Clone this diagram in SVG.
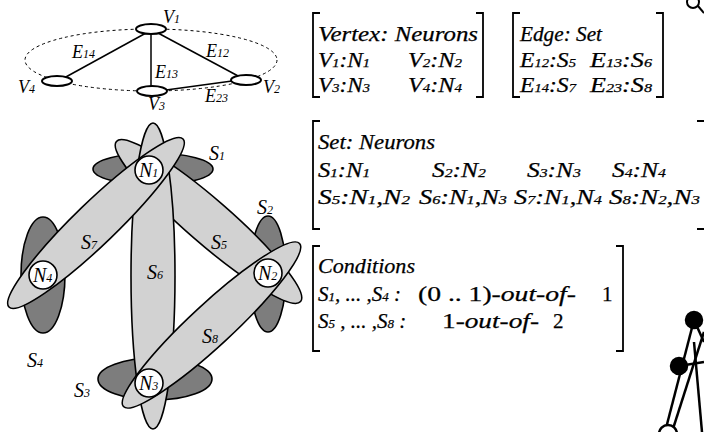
<svg xmlns="http://www.w3.org/2000/svg" width="704" height="432" viewBox="0 0 704 432">
<style>
.t{font-family:"Liberation Serif","Times New Roman",serif;font-style:italic;font-size:21px;fill:#000;stroke:#000;stroke-width:0.25}
.g{font-family:"Liberation Serif","Times New Roman",serif;font-style:italic;font-size:18px;fill:#000}
.gl{font-size:20px}
.s{font-size:12px}
.t .s{font-size:13px}
.u{font-style:normal}
.v{fill:#fff;stroke:#000;stroke-width:2}
.edge{stroke:#000;stroke-width:1.5;fill:none}
.dash{fill:none;stroke:#000;stroke-width:1;stroke-dasharray:3 3}
.lt{fill:#d2d2d2;stroke:#000;stroke-width:1.6}
.dk{fill:#7d7d7d;stroke:#000;stroke-width:1.6}
.nd{fill:#fff;stroke:#000;stroke-width:1.6}
.br{fill:none;stroke:#000;stroke-width:1.8}
</style>

<!-- top graph -->
<ellipse class="dash" cx="151" cy="60" rx="126" ry="31"/>
<g id="connectors">
  <line class="edge" x1="146" y1="33" x2="64" y2="78"/>
  <line class="edge" x1="151" y1="34" x2="151" y2="87"/>
  <line class="edge" x1="158" y1="33" x2="240" y2="77"/>
  <line class="edge" x1="166" y1="90" x2="232" y2="81"/>
</g>
<g id="V1"><ellipse class="v" cx="151" cy="29" rx="15" ry="5"/><text class="g" x="163" y="23">V<tspan class="s">1</tspan></text></g>
<g id="V2"><ellipse class="v" cx="246" cy="80" rx="15" ry="5"/><text class="g" x="263" y="93">V<tspan class="s">2</tspan></text></g>
<g id="V3"><ellipse class="v" cx="152" cy="91" rx="15" ry="5"/><text class="g" x="148" y="110">V<tspan class="s">3</tspan></text></g>
<g id="V4"><ellipse class="v" cx="57" cy="81" rx="15" ry="5"/><text class="g" x="18" y="93">V<tspan class="s">4</tspan></text></g>
<g id="edge-labels">
  <text class="g" x="72" y="58">E<tspan class="s">14</tspan></text>
  <text class="g" x="155" y="78">E<tspan class="s">13</tspan></text>
  <text class="g" x="206" y="57">E<tspan class="s">12</tspan></text>
  <text class="g" x="205" y="102">E<tspan class="s">23</tspan></text>
</g>

<!-- set diagram -->
<g id="S1"><ellipse class="dk" cx="153" cy="169" rx="60" ry="16"/></g>
<g id="S2"><ellipse class="dk" cx="268" cy="274" rx="18" ry="58"/></g>
<g id="S3"><ellipse class="dk" cx="155" cy="379" rx="57" ry="21"/></g>
<g id="S4"><ellipse class="dk" cx="43" cy="275" rx="22" ry="58"/></g>
<g id="S5"><ellipse class="lt" cx="208.5" cy="221.5" rx="122" ry="22" transform="rotate(41 208.5 221.5)"/></g>
<g id="S6"><ellipse class="lt" cx="153" cy="276" rx="22" ry="153"/></g>
<g id="S7"><ellipse class="lt" cx="96" cy="223" rx="121" ry="21" transform="rotate(-44 96 223)"/></g>
<g id="S8"><ellipse class="lt" cx="211.5" cy="325" rx="120" ry="21" transform="rotate(-42.8 211.5 325)"/></g>
<g id="N1"><circle class="nd" cx="149" cy="170" r="14"/><text class="g gl" x="139" y="177">N<tspan class="s">1</tspan></text></g>
<g id="N2"><circle class="nd" cx="268" cy="273" r="14"/><text class="g gl" x="258" y="280">N<tspan class="s">2</tspan></text></g>
<g id="N3"><circle class="nd" cx="149" cy="383" r="14"/><text class="g gl" x="139" y="390">N<tspan class="s">3</tspan></text></g>
<g id="N4"><circle class="nd" cx="43" cy="275" r="14"/><text class="g gl" x="33" y="282">N<tspan class="s">4</tspan></text></g>
<g id="set-labels">
  <text class="g gl" x="209" y="160">S<tspan class="s">1</tspan></text>
  <text class="g gl" x="257" y="214">S<tspan class="s">2</tspan></text>
  <text class="g gl" x="74" y="397">S<tspan class="s">3</tspan></text>
  <text class="g gl" x="27" y="367">S<tspan class="s">4</tspan></text>
  <text class="g gl" x="211" y="249">S<tspan class="s">5</tspan></text>
  <text class="g gl" x="147" y="279">S<tspan class="s">6</tspan></text>
  <text class="g gl" x="81" y="249">S<tspan class="s">7</tspan></text>
  <text class="g gl" x="202" y="343">S<tspan class="s">8</tspan></text>
</g>

<!-- box 1 -->
<g id="box-vertex">
  <path class="br" d="M320 13 H313 V97 H320"/>
  <path class="br" d="M476 13 H483 V97 H476"/>
  <text class="t" x="318" y="41" textLength="160" lengthAdjust="spacingAndGlyphs">Vertex: Neurons</text>
  <text class="t" x="318" y="67" textLength="52" lengthAdjust="spacingAndGlyphs">V<tspan class="s">1</tspan>:N<tspan class="s">1</tspan></text>
  <text class="t" x="408" y="67" textLength="54" lengthAdjust="spacingAndGlyphs">V<tspan class="s">2</tspan>:N<tspan class="s">2</tspan></text>
  <text class="t" x="318" y="92" textLength="52" lengthAdjust="spacingAndGlyphs">V<tspan class="s">3</tspan>:N<tspan class="s">3</tspan></text>
  <text class="t" x="408" y="92" textLength="54" lengthAdjust="spacingAndGlyphs">V<tspan class="s">4</tspan>:N<tspan class="s">4</tspan></text>
</g>
<!-- box 2 -->
<g id="box-edge">
  <path class="br" d="M520 13 H513 V97 H520"/>
  <path class="br" d="M656 13 H663 V97 H656"/>
  <text class="t" x="520" y="41" textLength="82" lengthAdjust="spacingAndGlyphs">Edge: Set</text>
  <text class="t" x="520" y="67" textLength="56" lengthAdjust="spacingAndGlyphs">E<tspan class="s">12</tspan>:S<tspan class="s">5</tspan></text>
  <text class="t" x="590" y="67" textLength="62" lengthAdjust="spacingAndGlyphs">E<tspan class="s">13</tspan>:S<tspan class="s">6</tspan></text>
  <text class="t" x="520" y="92" textLength="56" lengthAdjust="spacingAndGlyphs">E<tspan class="s">14</tspan>:S<tspan class="s">7</tspan></text>
  <text class="t" x="590" y="92" textLength="62" lengthAdjust="spacingAndGlyphs">E<tspan class="s">23</tspan>:S<tspan class="s">8</tspan></text>
</g>
<!-- box 3 -->
<g id="box-set">
  <path class="br" d="M320 121 H313 V229 H320"/>
  <path class="br" d="M697 121 H704 M697 229 H704"/>
  <text class="t" x="318" y="149" textLength="117" lengthAdjust="spacingAndGlyphs">Set: Neurons</text>
  <text class="t" x="318" y="177" textLength="52" lengthAdjust="spacingAndGlyphs">S<tspan class="s">1</tspan>:N<tspan class="s">1</tspan></text>
  <text class="t" x="432" y="177" textLength="54" lengthAdjust="spacingAndGlyphs">S<tspan class="s">2</tspan>:N<tspan class="s">2</tspan></text>
  <text class="t" x="527" y="177" textLength="54" lengthAdjust="spacingAndGlyphs">S<tspan class="s">3</tspan>:N<tspan class="s">3</tspan></text>
  <text class="t" x="612" y="177" textLength="54" lengthAdjust="spacingAndGlyphs">S<tspan class="s">4</tspan>:N<tspan class="s">4</tspan></text>
  <text class="t" x="318" y="204" textLength="92" lengthAdjust="spacingAndGlyphs">S<tspan class="s">5</tspan>:N<tspan class="s">1</tspan>,N<tspan class="s">2</tspan></text>
  <text class="t" x="419" y="204" textLength="88" lengthAdjust="spacingAndGlyphs">S<tspan class="s">6</tspan>:N<tspan class="s">1</tspan>,N<tspan class="s">3</tspan></text>
  <text class="t" x="514" y="204" textLength="88" lengthAdjust="spacingAndGlyphs">S<tspan class="s">7</tspan>:N<tspan class="s">1</tspan>,N<tspan class="s">4</tspan></text>
  <text class="t" x="609" y="204" textLength="91" lengthAdjust="spacingAndGlyphs">S<tspan class="s">8</tspan>:N<tspan class="s">2</tspan>,N<tspan class="s">3</tspan></text>
</g>
<!-- box 4 -->
<g id="box-conditions">
  <path class="br" d="M320 246 H313 V351 H320"/>
  <path class="br" d="M616 246 H623 V351 H616"/>
  <text class="t" x="318" y="273" textLength="97" lengthAdjust="spacingAndGlyphs">Conditions</text>
  <text class="t" x="318" y="301">S<tspan class="s">1</tspan>, ... ,S<tspan class="s">4</tspan> :</text>
  <text class="t" x="418" y="301" textLength="158" lengthAdjust="spacingAndGlyphs"><tspan class="u">(0 .. 1)</tspan>-out-of-</text>
  <text class="t u" x="602" y="301">1</text>
  <text class="t" x="318" y="328">S<tspan class="s">5</tspan> , ... ,S<tspan class="s">8</tspan> :</text>
  <text class="t" x="442" y="328" textLength="97" lengthAdjust="spacingAndGlyphs"><tspan class="u">1</tspan>-out-of-</text>
  <text class="t u" x="553" y="328">2</text>
</g>

<!-- partial figures at the right edge -->
<g id="corner-top">
  <circle cx="693" cy="2" r="6" fill="none" stroke="#000" stroke-width="2"/>
  <line x1="698" y1="6" x2="704" y2="13" stroke="#000" stroke-width="2"/>
</g>
<g id="corner-bottom" stroke="#000" stroke-width="2.5" fill="none">
  <line x1="694" y1="320" x2="665" y2="432"/>
  <line x1="694" y1="320" x2="704" y2="342"/>
  <line x1="679" y1="366" x2="704" y2="362"/>
  <line x1="704" y1="332" x2="672" y2="432"/>
  <line x1="694" y1="342" x2="702" y2="432"/>
  <circle cx="694" cy="320" r="8" fill="#000"/>
  <circle cx="679" cy="366" r="8" fill="#000"/>
  <circle cx="668" cy="434" r="9" fill="#fff"/>
</g>
</svg>
